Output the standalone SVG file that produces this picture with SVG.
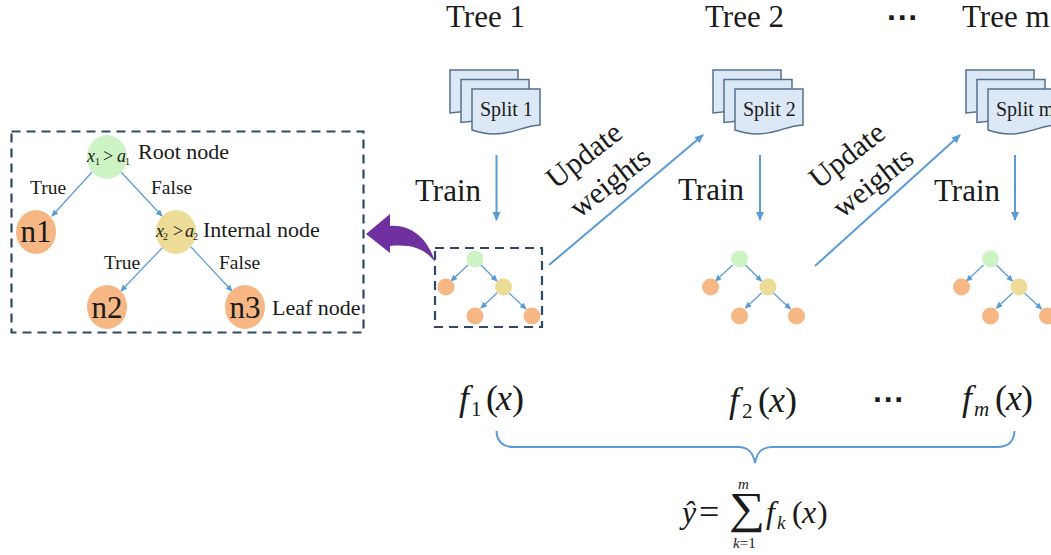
<svg xmlns="http://www.w3.org/2000/svg" xmlns:xlink="http://www.w3.org/1999/xlink" width="1051" height="555" viewBox="0 0 1051 555">
<style>
text{font-family:"Liberation Serif","Times New Roman",serif;fill:#1a1a1a}
.t{font-size:31px}.tr{font-size:31px}.sp{font-size:20px}.lb{font-size:22px}.s{font-size:19.500px}.n{font-size:31px;text-anchor:middle}
.u{font-size:30px;text-anchor:middle}
.i{font-style:italic}.r{font-style:normal}
.c{fill:none;stroke:#5b9bd5;stroke-width:2}
.thin{fill:none;stroke:#5b9bd5;stroke-width:1.2}
.box{fill:none;stroke:#2f4a68;stroke-width:2.2;stroke-dasharray:9 6}
.doc{fill:#dce8f5;stroke:#55708e;stroke-width:1.5}
.g{fill:#cdf3c5}.y{fill:#ecdc98}.o{fill:#f7b785}
.d{font-family:"Liberation Sans",sans-serif;font-size:32px;font-weight:bold}
</style>
<defs>
<marker id="a" markerWidth="8" markerHeight="8" refX="6" refY="3" orient="auto" markerUnits="userSpaceOnUse"><path d="M0,0L7,3L0,6z" fill="#5b9bd5"/></marker>
<marker id="b" markerWidth="10" markerHeight="10" refX="8" refY="4" orient="auto" markerUnits="userSpaceOnUse"><path d="M0,0L9,4L0,8z" fill="#5b9bd5"/></marker>
<g id="docs">
<path class="doc" d="M0,0H68V36L0,43z" transform="translate(-22,-19)"/>
<path class="doc" d="M0,0H68V36L0,43z" transform="translate(-11,-9.5)"/>
<path class="doc" d="M0,0H68V36C50,37 42,45 22,45C12,45 6,43 0,41z"/>
</g>
<g id="mini">
<path class="thin" marker-end="url(#a)" d="M-7,6L-24,22"/>
<path class="thin" marker-end="url(#a)" d="M5,5L22,22"/>
<path class="thin" marker-end="url(#a)" d="M22,34L6,49"/>
<path class="thin" marker-end="url(#a)" d="M34,34L51,50"/>
<circle class="g" cx="0" cy="0" r="8.500"/><circle class="o" cx="-29" cy="28" r="8.500"/><circle class="y" cx="28.500" cy="28" r="8.500"/><circle class="o" cx="0" cy="57" r="8.500"/><circle class="o" cx="57" cy="57" r="8.500"/>
</g>
</defs>

<g id="connectors">
<path class="thin" marker-end="url(#a)" d="M92,172L52,216"/>
<path class="thin" marker-end="url(#a)" d="M121,172L162,216"/>
<path class="thin" marker-end="url(#a)" d="M163,247L121,291"/>
<path class="thin" marker-end="url(#a)" d="M191,247L232,291"/>
<path class="c" marker-end="url(#b)" d="M496.500,155V220"/>
<path class="c" marker-end="url(#b)" d="M760,155V220"/>
<path class="c" marker-end="url(#b)" d="M1015,155V220"/>
<path class="c" marker-end="url(#b)" d="M549,265L703,135"/>
<path class="c" marker-end="url(#b)" d="M815,266L960,135"/>
<path class="c" d="M496.500,431C497,442 503,447 514,447H738C748,447 753,452 755,463C757,452 762,447 772,447H997C1008,447 1014,442 1014.500,431"/>
<path fill="#7030a0" d="M366,234L390,214L390,226C410,224 428,238 435,262C425,248 410,244 390,246L390,253z"/>
</g>

<g id="detail-box"><rect class="box" x="11.500" y="131.500" width="352" height="201"/></g>
<g id="root-node"><ellipse class="g" cx="107" cy="157" rx="20" ry="22"/>
<text class="i" font-size="18" y="162"><tspan x="87">x</tspan><tspan class="r" x="103">&gt;</tspan><tspan x="117">a</tspan></text>
<text font-size="10" y="165"><tspan x="95">1</tspan><tspan x="125">1</tspan></text>
<text class="lb" x="138" y="159">Root node</text></g>
<g id="internal-node"><ellipse class="y" cx="176" cy="232" rx="20" ry="22"/>
<text class="i" font-size="18" y="237"><tspan x="156">x</tspan><tspan class="r" x="173">&gt;</tspan><tspan x="185">a</tspan></text>
<text font-size="10" y="240"><tspan x="163">2</tspan><tspan x="193">2</tspan></text>
<text class="lb" x="203" y="237">Internal node</text></g>
<g id="n1"><ellipse class="o" cx="36" cy="232" rx="20" ry="22"/><text class="n" x="36" y="242">n1</text></g>
<g id="n2"><ellipse class="o" cx="107" cy="307" rx="20" ry="22"/><text class="n" x="107" y="318">n2</text></g>
<g id="n3"><ellipse class="o" cx="245" cy="307" rx="20" ry="22"/><text class="n" x="245" y="318">n3</text>
<text class="lb" x="272" y="315">Leaf node</text></g>
<g id="edge-labels">
<text class="s" x="30" y="194">True</text><text class="s" x="151" y="194">False</text>
<text class="s" x="104" y="269">True</text><text class="s" x="219" y="269">False</text>
</g>

<g id="tree-1"><text class="t" x="446" y="27">Tree 1</text>
<use xlink:href="#docs" href="#docs" x="472" y="89"/><text class="sp" x="480" y="116">Split 1</text>
<text class="tr" x="415" y="201">Train</text></g>
<g id="tree-1-model"><use href="#mini" x="475" y="259"/><rect class="box" x="435" y="248" width="107" height="79"/></g>
<g id="tree-2"><text class="t" x="705" y="27">Tree 2</text>
<use href="#docs" x="735" y="89"/><text class="sp" x="743" y="116">Split 2</text>
<text class="tr" x="678" y="200">Train</text></g>
<g id="tree-2-model"><use href="#mini" x="739.500" y="259"/></g>
<g id="tree-m"><text class="t" x="962" y="27">Tree m</text>
<use href="#docs" x="988" y="89"/><text class="sp" x="996" y="116">Split m</text>
<text class="tr" x="934" y="201">Train</text></g>
<g id="tree-m-model"><use href="#mini" x="990.500" y="259"/></g>

<g id="update-labels">
<text class="u" transform="translate(590,163) rotate(-38)">Update</text>
<text class="u" transform="translate(616,190) rotate(-38)">weights</text>
<text class="u" transform="translate(853,163) rotate(-38)">Update</text>
<text class="u" transform="translate(879,190) rotate(-38)">weights</text>
</g>
<g id="dots">
<text class="d" x="887" y="28">···</text>
<text class="d" x="873" y="410">···</text>
</g>
<g id="formulas" font-size="36">
<text y="410" class="i"><tspan x="459">f</tspan><tspan class="r" x="486">(</tspan><tspan x="496">x</tspan><tspan class="r" x="512">)</tspan></text>
<text x="471" y="416" font-size="21">1</text>
<text y="412" class="i"><tspan x="729">f</tspan><tspan class="r" x="758">(</tspan><tspan x="769">x</tspan><tspan class="r" x="785">)</tspan></text>
<text x="742" y="418" font-size="21">2</text>
<text y="410" class="i"><tspan x="962">f</tspan><tspan class="r" x="995">(</tspan><tspan x="1006">x</tspan><tspan class="r" x="1021">)</tspan></text>
<text x="974" y="416" class="i" font-size="21">m</text>
<text y="523" class="i" font-size="32"><tspan x="682">ŷ</tspan></text>
<text x="699" y="524" font-size="36">=</text>
<text transform="translate(729,523) scale(1.15,1)" font-size="44">∑</text>
<text x="738" y="489" class="i" font-size="15">m</text>
<text x="733" y="548" class="i" font-size="15">k<tspan class="r">=1</tspan></text>
<text y="523" class="i" font-size="32"><tspan x="766">f</tspan><tspan class="r" x="792">(</tspan><tspan x="802">x</tspan><tspan class="r" x="817">)</tspan></text>
<text x="777" y="529" class="i" font-size="19">k</text>
</g>
</svg>
